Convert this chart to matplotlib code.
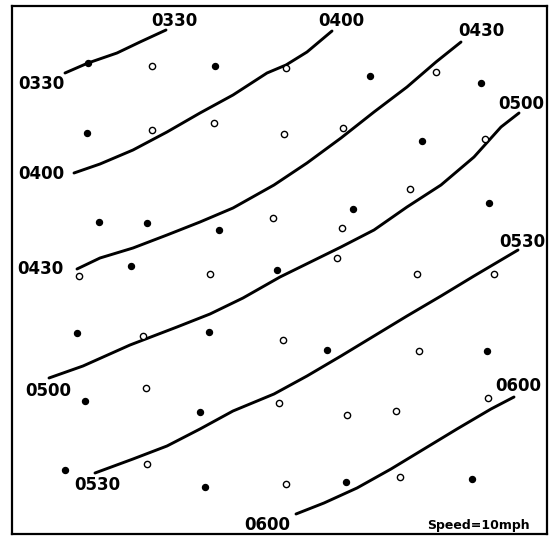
import matplotlib
matplotlib.use("Agg")
import matplotlib.pyplot as plt

# Station observations (map coordinates), filled = one class, open = other
filled_x = [88, 215, 370, 481, 87, 422, 99, 147, 219, 353, 489, 131, 277,
            77, 209, 327, 487, 85, 200, 65, 205, 346, 472]
filled_y = [63, 66, 76, 83, 133, 141, 222, 223, 230, 209, 203, 266, 270,
            333, 332, 350, 351, 401, 412, 470, 487, 482, 479]
open_x = [152, 286, 436, 152, 214, 284, 343, 485, 273, 342, 410, 79, 210,
          337, 417, 494, 143, 283, 419, 146, 279, 347, 396, 488, 147, 286, 400]
open_y = [66, 68, 72, 130, 123, 134, 128, 139, 218, 228, 189, 276, 274,
          258, 274, 274, 336, 340, 351, 388, 403, 415, 411, 398, 464, 484, 477]

# Isochrone lines (time of passage)
iso_0330_x = [65, 88, 117, 140, 166]
iso_0330_y = [73, 63, 53, 42, 30]
iso_0400_x = [74, 100, 133, 167, 200, 233, 267, 286, 307, 332]
iso_0400_y = [173, 164, 150, 132, 113, 95, 73, 65, 52, 31]
iso_0430_x = [77, 100, 133, 167, 200, 233, 274, 307, 341, 374, 407, 436, 461]
iso_0430_y = [269, 258, 248, 235, 222, 208, 185, 163, 138, 112, 87, 62, 42]
iso_0500_x = [49, 83, 130, 177, 210, 243, 280, 341, 374, 407, 441, 474, 501, 519]
iso_0500_y = [378, 366, 345, 327, 314, 298, 277, 247, 230, 207, 185, 157, 127, 113]
iso_0530_x = [95, 133, 167, 200, 233, 274, 307, 341, 374, 407, 441, 474, 496, 518]
iso_0530_y = [473, 459, 446, 429, 411, 394, 376, 356, 336, 316, 296, 276, 263, 250]
iso_0600_x = [296, 324, 357, 391, 424, 457, 491, 514]
iso_0600_y = [514, 503, 488, 469, 449, 429, 409, 397]

iso_lines = [(iso_0330_x, iso_0330_y), (iso_0400_x, iso_0400_y),
             (iso_0430_x, iso_0430_y), (iso_0500_x, iso_0500_y),
             (iso_0530_x, iso_0530_y), (iso_0600_x, iso_0600_y)]

# Labels: text, x, y
label_texts = ["0330", "0330", "0400", "0400", "0430", "0430",
               "0500", "0500", "0530", "0530", "0600", "0600"]
label_x = [174, 41, 341, 41, 481, 40, 521, 48, 522, 97, 518, 267]
label_y = [21, 84, 21, 174, 31, 269, 104, 391, 242, 485, 386, 525]

note_text = "Speed=10mph"

fig = plt.figure(figsize=(5.54, 5.36), dpi=100)
ax = fig.add_axes([12 / 554, 2 / 536, 535 / 554, 528 / 536])
ax.set_xlim(12, 547)
ax.set_ylim(534, 6)
ax.set_xticks([])
ax.set_yticks([])
for s in ax.spines.values():
    s.set_linewidth(1.6)
    s.set_color("black")

for xs, ys in iso_lines:
    ax.plot(xs, ys, color="black", lw=2.1, solid_capstyle="round",
            solid_joinstyle="round")

ax.plot(filled_x, filled_y, "o", color="black", ms=4.3, mec="black")
ax.plot(open_x, open_y, "o", mfc="white", mec="black", ms=4.5, mew=1.0)

for t, x, y in zip(label_texts, label_x, label_y):
    ax.text(x, y, t, ha="center", va="center", fontsize=12,
            fontweight="bold", family="DejaVu Sans", clip_on=False)

ax.text(478, 526, note_text, ha="center", va="center", fontsize=9,
        fontweight="bold", family="DejaVu Sans")

fig.savefig("out.png", dpi=100)
